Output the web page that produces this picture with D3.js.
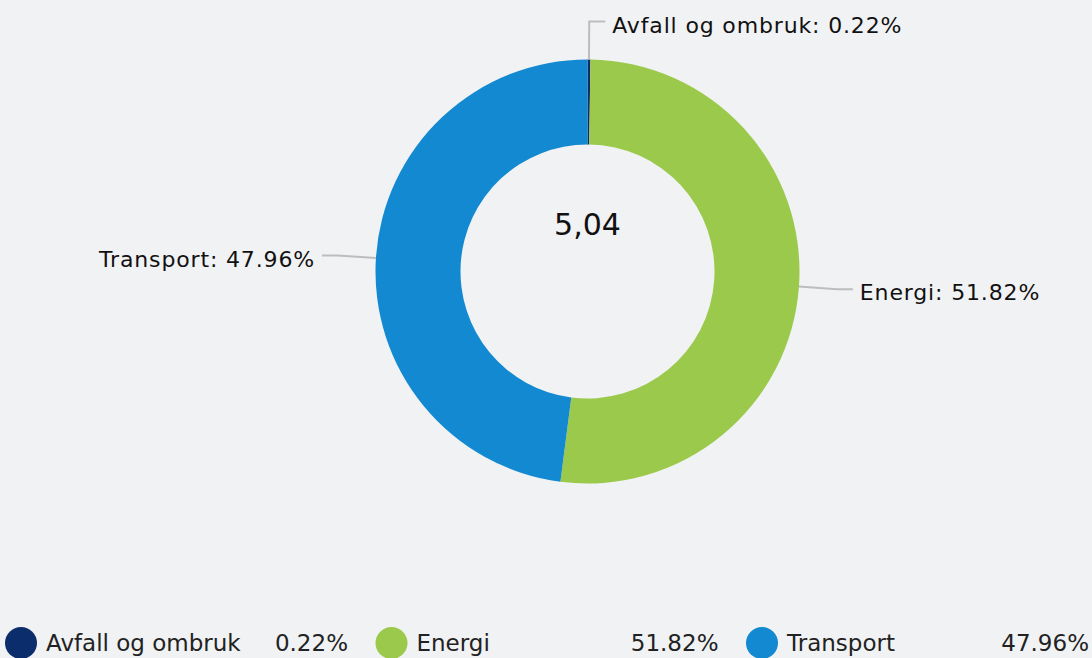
<!DOCTYPE html>
<html>
<head>
<meta charset="utf-8">
<script src="https://cdn.jsdelivr.net/npm/d3@7"></script>
<style>
  body { margin: 0; background: #f1f2f4; }
  svg { display: block; font-family: "DejaVu Sans", Verdana, sans-serif; }
</style>
</head>
<body>
<div id="chart"></div>
<script>
const categories = ['Avfall og ombruk', 'Energi', 'Transport'];
const shares = [0.22, 51.82, 47.96];
const colors = ['#0b2d6b', '#9bc94b', '#1289d0'];
const centerLabel = '5,04';

const width = 1092;
const height = 658;
const cx = 587.5, cy = 271.5;
const outerR = 212, innerR = 127;

const svg = d3.select('#chart')
  .append('svg')
  .attr('width', width)
  .attr('height', height);

svg.append('rect')
  .attr('width', width)
  .attr('height', height)
  .attr('fill', '#f1f2f4');

const pie = d3.pie().sort(null).value(d => d);
const arcs = pie(shares);
const arc = d3.arc().innerRadius(innerR).outerRadius(outerR);

const g = svg.append('g').attr('transform', `translate(${cx},${cy})`);

g.selectAll('path.slice')
  .data(arcs)
  .enter()
  .append('path')
    .attr('class', 'slice')
    .attr('d', arc)
    .attr('fill', (d, i) => colors[i]);

// leader lines + labels
const polar = (a, r) => [r * Math.sin(a), -r * Math.cos(a)];
arcs.forEach((d, i) => {
  const a = (d.startAngle + d.endAngle) / 2;
  const p0 = polar(a, outerR);
  const p1 = polar(a, outerR + 38);
  const right = Math.sin(a) >= 0;
  const p2 = [p1[0] + (right ? 16 : -16), p1[1]];
  g.append('path')
    .attr('d', d3.line()([p0, p1, p2]))
    .attr('fill', 'none')
    .attr('stroke', '#bdbdbd')
    .attr('stroke-width', 2);
  g.append('text')
    .attr('x', p2[0] + (right ? 7 : -7))
    .attr('y', p2[1])
    .attr('dy', '0.5em')
    .attr('text-anchor', right ? 'start' : 'end')
    .attr('font-size', 22)
    .attr('letter-spacing', 0.85)
    .attr('fill', '#111')
    .text(`${categories[i]}: ${shares[i].toFixed(2)}%`);
});

g.append('text')
  .attr('x', 0)
  .attr('y', -47)
  .attr('dy', '0.35em')
  .attr('text-anchor', 'middle')
  .attr('font-size', 30)
  .attr('fill', '#111')
  .text(centerLabel);

// legend
const legend = svg.append('g').attr('transform', 'translate(0,643)');
const legendX = d3.scalePoint().domain(categories).range([0, 741]);
const item = legend.selectAll('g.item')
  .data(categories)
  .enter()
  .append('g')
    .attr('class', 'item')
    .attr('transform', d => `translate(${legendX(d)},0)`);
item.append('circle')
  .attr('cx', 21)
  .attr('r', 16)
  .attr('fill', (d, i) => colors[i]);
item.append('text')
  .attr('x', 46)
  .attr('dy', '0.35em')
  .attr('font-size', 23)
  .attr('fill', '#222')
  .text(d => d);
item.append('text')
  .attr('x', 348)
  .attr('dy', '0.35em')
  .attr('text-anchor', 'end')
  .attr('font-size', 23)
  .attr('fill', '#222')
  .text((d, i) => shares[i].toFixed(2) + '%');
</script>
</body>
</html>
